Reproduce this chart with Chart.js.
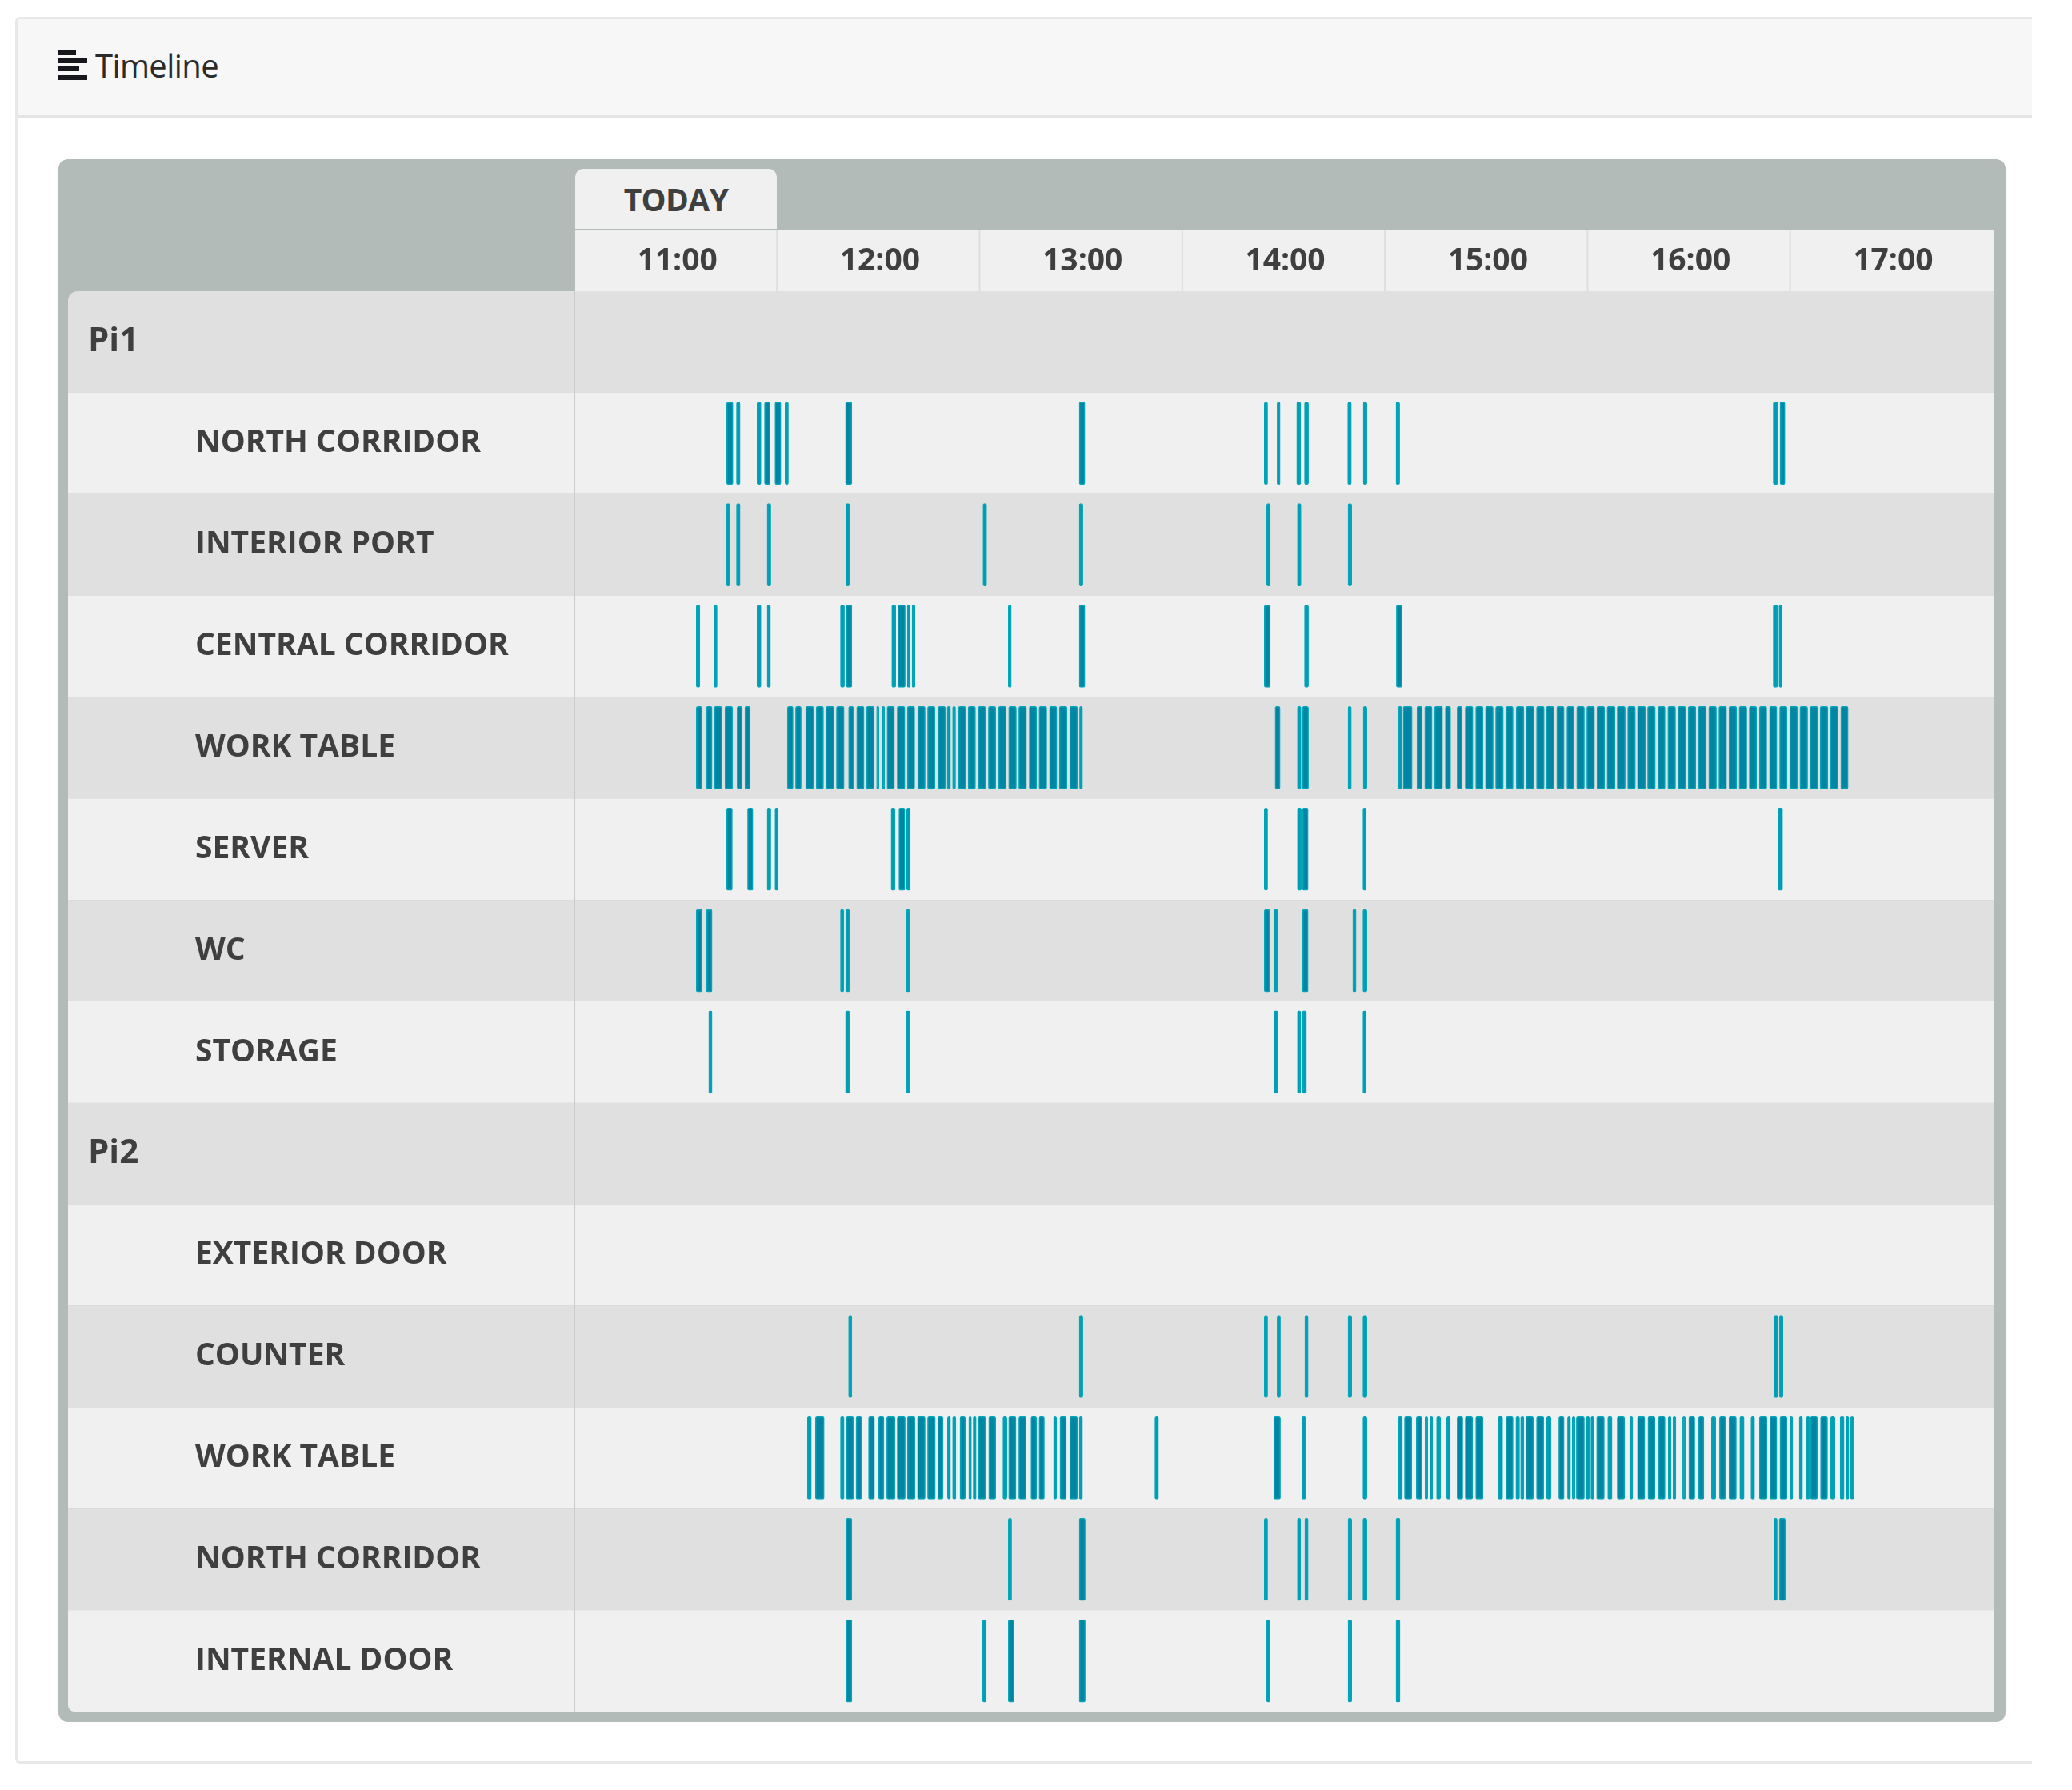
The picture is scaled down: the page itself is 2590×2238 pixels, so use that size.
<!DOCTYPE html>
<html>
<head>
<meta charset="utf-8">
<title>Timeline</title>
<script src="https://cdn.jsdelivr.net/npm/chart.js@4"></script>
<style>
  html, body { margin: 0; background: #fff; }
  body { position: relative; width: 2590px; height: 2238px; overflow: hidden; font-family: "Open Sans", sans-serif; }
  .card { position: absolute; left: 19px; top: 21px; width: 2521px; height: 2184px; box-sizing: border-box;
    border: 3px solid #e8e8e8; border-right: none; border-radius: 6px 0 0 6px; }
  .card-head { position: absolute; left: 0; top: 0; right: 0; height: 120px; background: #f7f7f7; border-bottom: 3px solid #e4e4e4; }
  .card-title { position: absolute; left: 97px; top: 33px; font-size: 40px; line-height: 50px; color: #2b2b2b; letter-spacing: -0.6px; }
  .icon { position: absolute; left: 51px; top: 39px; width: 36px; height: 38px; }
  .icon i { position: absolute; left: 0; height: 6px; background: #16181c; }
  .panel { position: absolute; left: 73px; top: 199px; width: 2434px; height: 1954px; background: #b3bbb9; border-radius: 12px; }
  .tab { position: absolute; left: 719px; top: 211px; width: 252px; height: 75px; background: #f0f0f0; border-radius: 10px 10px 0 0;
    text-align: center; font-weight: 700; font-size: 39px; line-height: 76px; color: #3f3f3f; letter-spacing: -0.6px; }
  canvas { position: absolute; left: 0; top: 0; }
</style>
</head>
<body>
<div class="card">
  <div class="card-head">
    <div class="icon"><i style="top:0;width:22px"></i><i style="top:10px;width:36px"></i><i style="top:20px;width:26px"></i><i style="top:31px;width:36px"></i></div>
    <div class="card-title">Timeline</div>
  </div>
</div>
<div class="panel"></div>
<canvas id="timeline" width="2590" height="2238"></canvas>
<div class="tab">TODAY</div>
<script>
'use strict';
// all times are minutes since midnight, each event is [start, end]
var hourTicks = [660, 720, 780, 840, 900, 960, 1020];
var hourLabels = ['11:00', '12:00', '13:00', '14:00', '15:00', '16:00', '17:00'];
var rowLabels = ['', 'NORTH CORRIDOR', 'INTERIOR PORT', 'CENTRAL CORRIDOR', 'WORK TABLE', 'SERVER', 'WC', 'STORAGE',
  '', 'EXTERIOR DOOR', 'COUNTER', 'WORK TABLE', 'NORTH CORRIDOR', 'INTERNAL DOOR'];
var groupLabels = ['Pi1', '', '', '', '', '', '', '', 'Pi2', '', '', '', '', ''];

var pi1North = [[674.6,676.5],[677.5,678.6],[683.6,684.8],[685.8,687.5],[688.9,690.7],[691.9,692.9],[709.8,711.7],[779,780.7],
  [833.8,834.8],[837.6,838.5],[843.4,844.6],[845.7,846.9],[858.5,859.6],[863.1,864.2],[872.8,873.9],[984.5,985.9],[986.5,988]];
var pi1Interior = [[674.5,675.6],[677.5,678.6],[686.6,687.7],[709.9,711],[750.5,751.6],[779,780.1],[834.5,835.6],[843.6,844.7],[858.6,859.7]];
var pi1Central = [[665.6,666.7],[670.9,671.8],[683.6,684.8],[686.6,687.6],[708.3,709.5],[710,711.7],[723.5,724.7],[725.3,727.5],
  [728.1,729],[729.5,730.4],[758,758.9],[779,780.7],[833.8,835.6],[845.7,846.9],[872.9,874.6],[984.5,985.8],[986.2,987.2]];
var pi1Work = [[665.6,667.3],[668.6,670.3],[670.9,673.2],[674.1,676.4],[677.7,679.2],[680,681.6],
  [692.6,694.3],[695,696.7],[698,700.4],[701.1,703.3],[704,706.4],[707.1,709.4],[710.7,712.2],[713.1,715.3],[716,718.3],
  [719,719.7],[720.6,721.4],[722.1,724.3],[725.1,727.4],[728.1,730.3],[731.2,733.4],[734.1,736.3],[737.2,739.4],[739.9,740.9],
  [741.5,742.4],[743.2,745.4],[746.1,748.3],[749.1,751.3],[752.1,754.3],[755.1,757.4],[758.1,760.4],[761.1,763.4],[764.2,766.4],
  [767.1,769.4],[770.2,772.4],[773.1,775.4],[776.2,778.5],[779.1,780],
  [837,838.5],[843.6,844.7],[845.1,846.9],[858.6,859.6],[863.1,864.2],
  [873.4,874.6],[874.9,877.6],[879,880.6],[881.3,883.5],[884.2,886.6],[887.4,889],[890.9,892.4],[893.3,895.6],[896.4,898.6],
  [899.3,901.6],[902.3,904.6],[905.4,907.5],[908.4,910.7],[911.3,913.7],[914.4,916.7],[917.3,919.6],[920.4,922.6],[923.4,925.5],
  [926.3,928.6],[929.3,931.6],[932.3,934.6],[935.3,937.7],[938.3,940.7],[941.4,943.7],[944.3,946.7],[947.3,949.6],[950.4,952.5],
  [953.3,955.6],[956.3,958.6],[959.3,961.6],[962.3,964.7],[965.4,967.7],[968.4,970.7],[971.4,973.7],[974.4,976.7],[977.4,979.6],
  [980.4,982.6],[983.4,985.6],[986.4,988.6],[989.4,991.7],[992.4,994.7],[995.4,997.7],[998.4,1000.7],[1001.4,1003.7],[1004.5,1006.7]];
var pi1Server = [[674.6,676.3],[680.8,682.4],[686.6,687.7],[688.9,689.9],[723.3,724.5],[725.6,727.4],[727.9,729],
  [833.8,834.8],[843.6,844.8],[845.1,846.8],[863,864],[985.9,987.3]];
var pi1Wc = [[665.6,667.3],[668.6,670.3],[708.3,709.3],[710,711],[727.8,728.8],[833.8,835.4],[836.6,837.8],[845.1,846.8],[860,861],[863,864.2]];
var pi1Storage = [[669.3,670.3],[709.8,711],[727.8,728.8],[836.6,837.8],[843.6,844.6],[845.1,846.3],[863,864]];
var pi2Exterior = [];
var pi2Counter = [[710.7,711.7],[779,780.1],[833.8,834.8],[837.6,838.6],[845.8,846.8],[858.6,859.7],[863,864.2],[984.7,985.9],[986.3,987.4]];
var pi2Work = [[698.5,699.7],[700.9,703.5],[708.3,709.4],[710,712.2],[712.9,714.6],[716.6,718.4],[719.6,721.2],[722,724.5],[725.1,727.5],
  [728.1,730.4],[731.1,733.4],[734.1,736.4],[737.1,738.7],[740,740.9],[741.5,742.5],[743.7,745.3],[746.3,747.1],[747.6,748.5],[749.1,751.3],
  [752.2,754.3],[756.4,757.6],[758.1,760.3],[761.1,763.3],[764.7,766.4],[767.1,768.7],[771.4,772.3],[773.3,775.2],[776.2,778.5],[779,780],
  [801.4,802.5],[836.6,838.6],[844.9,846.1],[863,864.2],
  [873.4,874.7],[875.3,877.5],[878.8,880.5],[881.4,882.2],[882.8,883.7],[884.8,886],[887.8,888.9],[890.9,892.6],[893.3,895.5],[896.4,898.6],
  [903,904.4],[905.4,907.5],[908.3,909.4],[909.7,910.7],[911.2,913.5],[914.4,916.6],[917.4,918.7],[921,922.6],[923.6,924.5],[925,925.8],
  [926.2,928.6],[929.1,930.1],[930.5,931.4],[932.2,934.5],[935.5,936.8],[938.3,940.5],[942,942.9],[944.3,946.5],[947.4,949.5],[950.5,952.5],
  [953.4,954.3],[954.8,955.7],[957.7,958.5],[959.5,961.3],[962.4,964],[966.2,967.5],[968.6,970.4],[971.4,973.6],[974.6,975.9],[977.9,979],
  [980.4,982.7],[983.5,985.6],[986.5,988.6],[989.4,990.3],[992.2,993.2],[994.3,995.3],[995.5,997.6],[998.5,1000.6],[1001.5,1002.8],
  [1004.3,1005.5],[1006,1006.9],[1007.4,1008.3]];
var pi2North = [[710,711.7],[758,759],[779,780.8],[833.8,834.8],[843.6,844.6],[845.8,846.8],[858.6,859.7],[863,864.2],[872.8,874],[984.7,985.7],[986.3,988.1]];
var pi2Internal = [[710,711.7],[750.4,751.5],[758,759.7],[779,780.8],[834.5,835.5],[858.6,859.7],[872.8,874]];

var rowEvents = [[], pi1North, pi1Interior, pi1Central, pi1Work, pi1Server, pi1Wc, pi1Storage,
  [], pi2Exterior, pi2Counter, pi2Work, pi2North, pi2Internal];

function rowIndexes(labels) {
  var out = [];
  labels.forEach(function(l, i) { if (l) out.push({ value: i }); });
  return out;
}

// stripes, header cells and the divider sit under the axes
var backdrop = {
  id: 'backdrop',
  beforeDraw: function(chart) {
    var ctx = chart.ctx, area = chart.chartArea;
    var x = chart.scales.x, y = chart.scales.y;
    ctx.save();
    ctx.fillStyle = '#f0f0f0';
    ctx.fillRect(area.left - 1, 287, area.right - area.left + 1, area.top - 287);
    ctx.fillStyle = '#dedede';
    hourTicks.slice(1).forEach(function(h) {
      ctx.fillRect(x.getPixelForValue(h - 30) - 3, 287, 2, area.top - 287);
    });
    ctx.beginPath();
    ctx.roundRect(85, area.top, area.right - 85, area.bottom - area.top, [12, 0, 0, 8]);
    ctx.clip();
    rowLabels.forEach(function(l, i) {
      var top = y.getPixelForValue(i - 0.5), bottom = y.getPixelForValue(i + 0.5);
      ctx.fillStyle = i % 2 ? '#f0f0f0' : '#e0e0e0';
      ctx.fillRect(85, top, area.right - 85, bottom - top);
    });
    ctx.fillStyle = '#cbcbcb';
    ctx.fillRect(area.left - 3, area.top, 2, area.bottom - area.top);
    ctx.restore();
  }
};

// one-minute events read lighter than the longer ones
function barColor(ctx) {
  var raw = ctx.raw;
  return raw && raw.x[1] - raw.x[0] < 1.4 ? '#009cb3' : '#0086a3';
}

var datasets = rowEvents.map(function(events, row) {
  return {
    label: rowLabels[row] || groupLabels[row],
    data: events.map(function(e) { return { x: e, y: row }; }),
    backgroundColor: barColor,
    borderColor: '#00a6ba',
    borderWidth: 1.5,
    borderSkipped: false,
    borderRadius: 2,
    barThickness: 103,
    grouped: false
  };
});

var labelFont = { family: 'Open Sans', weight: '700', size: 39 };

var config = {
  type: 'bar',
  data: { datasets: datasets },
  options: {
    indexAxis: 'y',
    responsive: false,
    devicePixelRatio: 1,
    animation: false,
    layout: { padding: { left: 110, right: 97, top: 288, bottom: 98 } },
    plugins: { legend: { display: false }, tooltip: { enabled: false } },
    scales: {
      x: {
        type: 'linear', position: 'top', min: 630, max: 1050,
        grid: { display: false }, border: { display: false },
        afterBuildTicks: function(scale) { scale.ticks = hourTicks.map(function(h) { return { value: h }; }); },
        afterFit: function(scale) { scale.height = 76; },
        ticks: {
          autoSkip: false, maxRotation: 0, padding: 6, color: '#3f3f3f',
          font: labelFont,
          callback: function(v) { return hourLabels[hourTicks.indexOf(v)]; }
        }
      },
      y: {
        type: 'linear', position: 'left', weight: 1, offset: false, reverse: true, min: -0.5, max: 13.5,
        grid: { display: false }, border: { display: false },
        afterBuildTicks: function(scale) { scale.ticks = rowIndexes(rowLabels); },
        afterFit: function(scale) { scale.width = 476; },
        ticks: {
          autoSkip: false, crossAlign: 'far', padding: 0, color: '#3f3f3f',
          font: labelFont,
          callback: function(v) { return rowLabels[v]; }
        }
      },
      yGroups: {
        type: 'linear', position: 'left', weight: 2, offset: false, reverse: true, min: -0.5, max: 13.5,
        grid: { display: false }, border: { display: false },
        afterBuildTicks: function(scale) { scale.ticks = rowIndexes(groupLabels); },
        afterFit: function(scale) { scale.width = 134; },
        ticks: {
          autoSkip: false, crossAlign: 'far', padding: 0, color: '#3f3f3f',
          font: { family: 'Open Sans', weight: '700', size: 42 },
          callback: function(v) { return groupLabels[v]; }
        }
      }
    }
  },
  plugins: [backdrop]
};

window.chart = new Chart(document.getElementById('timeline'), config);
</script>
</body>
</html>
